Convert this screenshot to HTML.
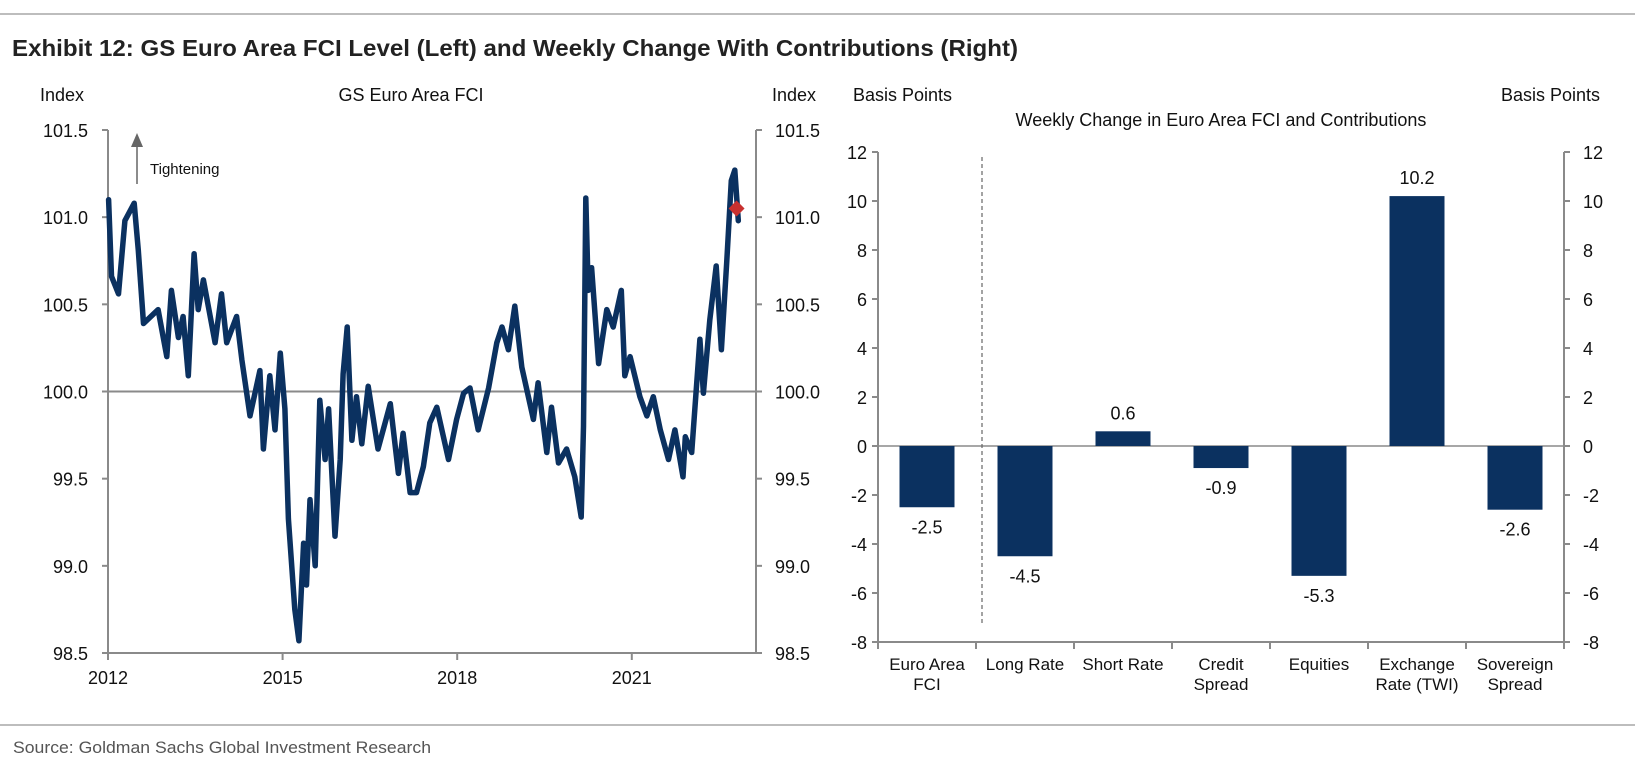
<!DOCTYPE html>
<html><head><meta charset="utf-8"><style>
html,body{margin:0;padding:0;background:#fff;}
svg{display:block;font-family:"Liberation Sans",Arial,sans-serif;}
</style></head><body>
<svg id="c" width="1635" height="772" viewBox="0 0 1635 772">
<line x1="0" y1="14" x2="1635" y2="14" stroke="#bdbdbd" stroke-width="2"/>
<text x="12" y="56" font-size="23" font-weight="bold" fill="#222" textLength="1006" lengthAdjust="spacingAndGlyphs" font-family="'Liberation Sans Narrow','Liberation Sans',sans-serif">Exhibit 12: GS Euro Area FCI Level (Left) and Weekly Change With Contributions (Right)</text>
<line x1="0" y1="725" x2="1635" y2="725" stroke="#bdbdbd" stroke-width="2"/>
<text x="13" y="753" font-size="17" fill="#555" textLength="418" lengthAdjust="spacingAndGlyphs" font-family="'Liberation Sans Narrow','Liberation Sans',sans-serif">Source: Goldman Sachs Global Investment Research</text>
<g id="left"></g>
<g id="right"></g>
</svg>
<script>
// ---- Left chart data ----
const fciYears = [2012.01,2012.06,2012.18,2012.29,2012.45,2012.52,2012.61,2012.86,2013.01,2013.09,2013.21,2013.29,2013.38,2013.48,2013.55,2013.64,2013.84,2013.95,2014.04,2014.21,2014.30,2014.44,2014.61,2014.67,2014.78,2014.87,2014.96,2015.04,2015.10,2015.21,2015.28,2015.36,2015.41,2015.47,2015.56,2015.64,2015.73,2015.79,2015.90,2015.99,2016.04,2016.11,2016.19,2016.27,2016.36,2016.47,2016.64,2016.85,2016.99,2017.07,2017.19,2017.30,2017.42,2017.53,2017.65,2017.85,2017.99,2018.11,2018.22,2018.36,2018.54,2018.68,2018.77,2018.88,2018.99,2019.11,2019.31,2019.39,2019.54,2019.62,2019.74,2019.88,2020.02,2020.13,2020.17,2020.21,2020.25,2020.31,2020.43,2020.57,2020.68,2020.82,2020.88,2020.97,2021.14,2021.26,2021.37,2021.49,2021.63,2021.74,2021.88,2021.92,2022.03,2022.17,2022.23,2022.34,2022.45,2022.54,2022.63,2022.71,2022.77,2022.83];
const fciValues = [101.10,100.66,100.56,100.98,101.08,100.81,100.39,100.47,100.20,100.58,100.31,100.43,100.09,100.79,100.47,100.64,100.28,100.56,100.28,100.43,100.18,99.86,100.12,99.67,100.09,99.78,100.22,99.90,99.27,98.75,98.57,99.13,98.89,99.38,99.00,99.95,99.61,99.90,99.17,99.61,100.10,100.37,99.72,99.97,99.70,100.03,99.67,99.93,99.53,99.76,99.42,99.42,99.57,99.82,99.91,99.61,99.84,99.99,100.02,99.78,100.02,100.28,100.37,100.24,100.49,100.14,99.84,100.05,99.65,99.91,99.59,99.67,99.51,99.28,99.80,101.11,100.58,100.71,100.16,100.47,100.37,100.58,100.09,100.20,99.97,99.86,99.97,99.78,99.61,99.78,99.51,99.74,99.65,100.30,99.99,100.41,100.72,100.24,100.74,101.21,101.27,100.98];
const latestPoint = [2022.80, 101.05];
const yTicksLeft = [98.5, 99.0, 99.5, 100.0, 100.5, 101.0, 101.5];
const xTickYears = [2012, 2015, 2018, 2021];
// ---- Right chart data ----
const categories = [["Euro Area","FCI"],["Long Rate"],["Short Rate"],["Credit","Spread"],["Equities"],["Exchange","Rate (TWI)"],["Sovereign","Spread"]];
const contributions = [-2.5, -4.5, 0.6, -0.9, -5.3, 10.2, -2.6];
const barLabels = ["-2.5","-4.5","0.6","-0.9","-5.3","10.2","-2.6"];
const yTicksRight = [-8,-6,-4,-2,0,2,4,6,8,10,12];

const NS = "http://www.w3.org/2000/svg";
function mk(parent, tag, attrs, text){
  const e = document.createElementNS(NS, tag);
  for (const k in attrs) e.setAttribute(k, attrs[k]);
  if (text !== undefined) e.textContent = text;
  parent.appendChild(e);
  return e;
}
const AX = "#8a8a8a", NAVY = "#0b3160", TXT = "#111";

// Left chart
const L = document.getElementById("left");
const lx0 = 108, lx1 = 756, ly0 = 653, ly1 = 130;
const xL = y => lx0 + (y - 2012) * 58.2;
const yL = v => ly0 - (v - 98.5) / 3 * (ly0 - ly1);
let t;
t = mk(L,"text",{x:40,y:101,"font-size":18,fill:TXT},"Index");


t = mk(L,"text",{x:772,y:101,"font-size":18,fill:TXT},"Index");


t = mk(L,"text",{x:411,y:101,"font-size":18,fill:TXT,"text-anchor":"middle"},"GS Euro Area FCI");


t = mk(L,"line",{x1:lx0,x2:lx1,y1:yL(100),y2:yL(100),stroke:AX,"stroke-width":2});


t = mk(L,"line",{x1:lx0,x2:lx0,y1:ly1,y2:ly0,stroke:AX,"stroke-width":2});


t = mk(L,"line",{x1:lx1,x2:lx1,y1:ly1,y2:ly0,stroke:AX,"stroke-width":2});


t = mk(L,"line",{x1:lx0,x2:lx1,y1:ly0,y2:ly0,stroke:AX,"stroke-width":2});


yTicksLeft.forEach(v=>{
  const y = yL(v);
  mk(L,"line",{x1:lx0-6,x2:lx0,y1:y,y2:y,stroke:AX,"stroke-width":2});
  mk(L,"line",{x1:lx1,x2:lx1+6,y1:y,y2:y,stroke:AX,"stroke-width":2});
  const a = mk(L,"text",{x:88,y:y+7,"font-size":18,fill:TXT,"text-anchor":"end"},v.toFixed(1));
  
  
  const b = mk(L,"text",{x:775,y:y+7,"font-size":18,fill:TXT},v.toFixed(1));
  
  
});
xTickYears.forEach(yr=>{
  const x = xL(yr);
  mk(L,"line",{x1:x,x2:x,y1:ly0,y2:ly0+7,stroke:AX,"stroke-width":2});
  const a = mk(L,"text",{x:x,y:684,"font-size":18,fill:TXT,"text-anchor":"middle"},String(yr));
  
  
});
t = mk(L,"line",{x1:137,x2:137,y1:184,y2:145,stroke:"#666","stroke-width":1.5});


mk(L,"polygon",{points:"131,147 143,147 137,133",fill:"#666"});
t = mk(L,"text",{x:150,y:174,"font-size":15,fill:TXT},"Tightening");


const pts = fciYears.map((yr,i)=> xL(yr).toFixed(1)+","+yL(fciValues[i]).toFixed(1)).join(" ");
t = mk(L,"polyline",{points:pts,fill:"none",stroke:NAVY,"stroke-width":5.5,"stroke-linejoin":"round","stroke-linecap":"round"});


const dx = xL(latestPoint[0]), dy = yL(latestPoint[1]);
t = mk(L,"polygon",{points:`${dx},${dy-8} ${dx+8},${dy} ${dx},${dy+8} ${dx-8},${dy}`,fill:"#c8312f"});



// Right chart
const R = document.getElementById("right");
const rx0 = 878, rx1 = 1564, ry0 = 642, ry1 = 152;
const yR = v => ry0 - (v + 8) / 20 * (ry0 - ry1);
const step = (rx1 - rx0) / categories.length;
const xC = i => rx0 + step * (i + 0.5);
t = mk(R,"text",{x:853,y:101,"font-size":18,fill:TXT},"Basis Points");


t = mk(R,"text",{x:1600,y:101,"font-size":18,fill:TXT,"text-anchor":"end"},"Basis Points");


t = mk(R,"text",{x:1221,y:126,"font-size":18,fill:TXT,"text-anchor":"middle"},"Weekly Change in Euro Area FCI and Contributions");


t = mk(R,"line",{x1:rx0,x2:rx0,y1:ry1,y2:ry0,stroke:AX,"stroke-width":2});


t = mk(R,"line",{x1:rx1,x2:rx1,y1:ry1,y2:ry0,stroke:AX,"stroke-width":2});


t = mk(R,"line",{x1:rx0,x2:rx1,y1:ry0,y2:ry0,stroke:AX,"stroke-width":2});


t = mk(R,"line",{x1:rx0,x2:rx1,y1:yR(0),y2:yR(0),stroke:AX,"stroke-width":1.5});


t = mk(R,"line",{x1:rx0+step+6,x2:rx0+step+6,y1:ry1+5,y2:623,stroke:"#666","stroke-width":1.2,"stroke-dasharray":"4,3"});


yTicksRight.forEach(v=>{
  const y = yR(v);
  mk(R,"line",{x1:rx0-6,x2:rx0,y1:y,y2:y,stroke:AX,"stroke-width":2});
  mk(R,"line",{x1:rx1,x2:rx1+6,y1:y,y2:y,stroke:AX,"stroke-width":2});
  const a = mk(R,"text",{x:867,y:y+7,"font-size":18,fill:TXT,"text-anchor":"end"},String(v));
  
  
  const b = mk(R,"text",{x:1583,y:y+7,"font-size":18,fill:TXT},String(v));
  
  
});
for (let i=0;i<=categories.length;i++){
  const x = rx0 + step*i;
  mk(R,"line",{x1:x,x2:x,y1:ry0,y2:ry0+7,stroke:AX,"stroke-width":2});
}
categories.forEach((lines,i)=>{
  lines.forEach((ln,j)=>{
    const a = mk(R,"text",{x:xC(i),y:670+j*20,"font-size":17,fill:TXT,"text-anchor":"middle"},ln);
    
    
  });
});
contributions.forEach((v,i)=>{
  const bw = 55;
  const y0 = yR(0), yv = yR(v);
  const bar = mk(R,"rect",{x:xC(i)-bw/2,y:Math.min(y0,yv),width:bw,height:Math.abs(yv-y0),fill:NAVY});
  
  
  const ly = v >= 0 ? yv - 12 : yv + 26;
  const lab = mk(R,"text",{x:xC(i),y:ly,"font-size":18,fill:TXT,"text-anchor":"middle"},barLabels[i]);
  
  
});
</script>
</body></html>
